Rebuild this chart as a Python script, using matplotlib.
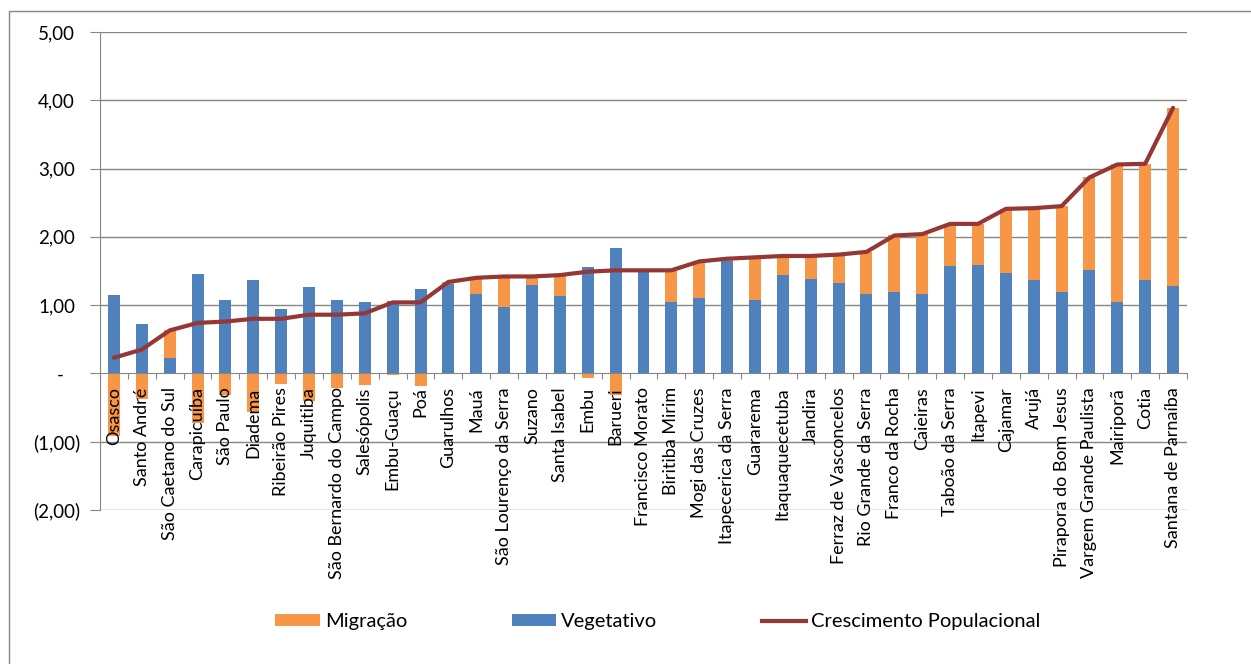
import numpy as np
import matplotlib
matplotlib.use("Agg")
import matplotlib.pyplot as plt
from matplotlib.patches import Patch, Rectangle
from matplotlib.lines import Line2D
from matplotlib.transforms import ScaledTranslation

plt.rcParams['font.family'] = ['Lato', 'DejaVu Sans']

categorias = ["Osasco", "Santo André", "São Caetano do Sul", "Carapicuíba", "São Paulo",
              "Diadema", "Ribeirão Pires", "Juquitiba", "São Bernardo do Campo", "Salesópolis",
              "Embu-Guaçu", "Poá", "Guarulhos", "Mauá", "São Lourenço da Serra", "Suzano",
              "Santa Isabel", "Embu", "Barueri", "Francisco Morato", "Biritiba Mirim",
              "Mogi das Cruzes", "Itapecerica da Serra", "Guararema", "Itaquaquecetuba",
              "Jandira", "Ferraz de Vasconcelos", "Rio Grande da Serra", "Franco da Rocha",
              "Caieiras", "Taboão da Serra", "Itapevi", "Cajamar", "Arujá",
              "Pirapora do Bom Jesus", "Vargem Grande Paulista", "Mairiporã", "Cotia",
              "Santana de Parnaíba"]

vegetativo = [1.15, 0.72, 0.22, 1.46, 1.07, 1.37, 0.95, 1.27, 1.07, 1.05,
              1.06, 1.23, 1.31, 1.17, 0.97, 1.29, 1.13, 1.56, 1.83, 1.51,
              1.04, 1.11, 1.65, 1.07, 1.44, 1.39, 1.33, 1.17, 1.19, 1.17,
              1.58, 1.59, 1.47, 1.37, 1.19, 1.52, 1.04, 1.37, 1.28]

migracao = [-0.92, -0.37, 0.41, -0.72, -0.31, -0.57, -0.15, -0.41, -0.21, -0.17,
            -0.02, -0.19, 0.03, 0.23, 0.45, 0.13, 0.31, -0.07, -0.32, -0.01,
            0.47, 0.53, 0.03, 0.63, 0.28, 0.33, 0.41, 0.61, 0.83, 0.87,
            0.61, 0.60, 0.94, 1.05, 1.26, 1.35, 2.02, 1.70, 2.61]

crescimento = [0.23, 0.35, 0.63, 0.74, 0.76, 0.80, 0.80, 0.86, 0.86, 0.88,
               1.04, 1.04, 1.34, 1.40, 1.42, 1.42, 1.44, 1.49, 1.51, 1.51,
               1.51, 1.64, 1.68, 1.70, 1.72, 1.72, 1.74, 1.78, 2.02, 2.04,
               2.19, 2.19, 2.41, 2.42, 2.45, 2.87, 3.06, 3.07, 3.89]

yticks = [-2, -1, 0, 1, 2, 3, 4, 5]
ytick_labels = ["(2,00)", "(1,00)", "-", "1,00", "2,00", "3,00", "4,00", "5,00"]

C_MIG = "#F79646"
C_VEG = "#4F81BD"
C_LINE = "#953735"
C_GRID = "#868686"

W, H = 1251, 664
fig = plt.figure(figsize=(W / 100, H / 100), dpi=100)

# outer chart border
fig.patches.append(Rectangle((9 / W, -0.1), 1.2, 1 - 11 / H + 0.1, transform=fig.transFigure,
                             fill=False, edgecolor=C_GRID, lw=1.0))

ax = fig.add_axes([100 / W, 1 - 510 / H, 1087 / W, 478 / H])

x = np.arange(len(categorias))
veg = np.array(vegetativo)
mig = np.array(migracao)
mig_bottom = np.where(mig >= 0, veg, 0.0)

bw = 0.43
ax.bar(x, mig, bottom=mig_bottom, width=bw, color=C_MIG, zorder=1)
ax.bar(x, veg, width=bw, color=C_VEG, zorder=1)
ax.plot(x, crescimento, color=C_LINE, lw=3, zorder=3, solid_joinstyle='round',
        solid_capstyle='round')

for v in yticks:
    if v != 0:
        ax.axhline(v, color=C_GRID, lw=1.0, zorder=0.5)

ax.set_xlim(-0.5, len(categorias) - 0.5)
ax.set_ylim(-2, 5)

for s in ['top', 'right']:
    ax.spines[s].set_visible(False)
ax.spines['bottom'].set_position(('data', 0))
ax.spines['bottom'].set_color(C_GRID)
ax.spines['bottom'].set_zorder(2)
ax.spines['left'].set_color(C_GRID)

ax.set_yticks(yticks)
ax.set_yticklabels(ytick_labels, fontsize=13.5, color="#000000")
ax.tick_params(axis='y', length=7.2, width=0.8, color=C_GRID, pad=7.2)

offsets = {"-": -16, "(1,00)": 0, "(2,00)": 0}
for lab in ax.get_yticklabels():
    dx = offsets.get(lab.get_text(), -5)
    lab.set_transform(lab.get_transform() + ScaledTranslation(dx / 100, 0, fig.dpi_scale_trans))

ax.set_xticks(x)
ax.set_xticklabels(categorias, rotation=90, fontsize=13)
ax.set_xticks(np.arange(-0.5, len(categorias), 1.0), minor=True)
ax.tick_params(axis='x', which='major', length=0, pad=10)
ax.tick_params(axis='x', which='minor', length=4.3, width=0.8, color=C_GRID, direction='out')
for lab in ax.get_xticklabels():
    lab.set_zorder(5)

handles = [Patch(facecolor=C_MIG, edgecolor='none', label='Migração'),
           Patch(facecolor=C_VEG, edgecolor='none', label='Vegetativo'),
           Line2D([0], [0], color=C_LINE, lw=3, label='Crescimento Populacional')]
fig.legend(handles=handles, loc='center', bbox_to_anchor=(658 / W, 1 - 622 / H),
           ncol=3, frameon=False, fontsize=14.5, handlelength=2.2, handletextpad=0.25,
           columnspacing=5.2, handleheight=0.55)

fig.savefig("out.png", dpi=100)
